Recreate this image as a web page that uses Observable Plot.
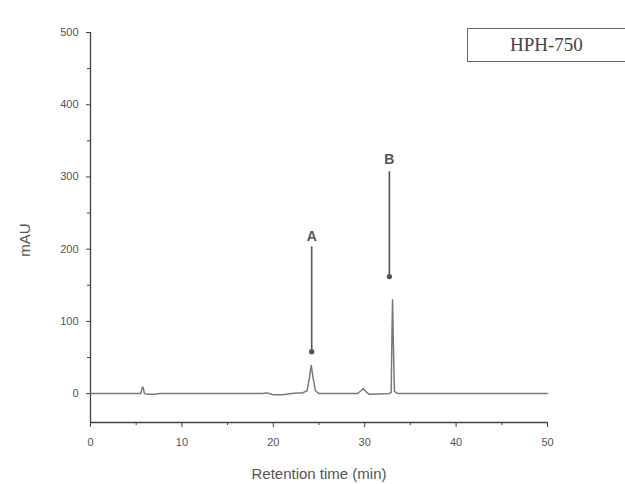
<!DOCTYPE html>
<html><head><meta charset="utf-8">
<script src="https://cdn.jsdelivr.net/npm/d3@7"></script>
<script src="https://cdn.jsdelivr.net/npm/@observablehq/plot@0.6"></script>
<style>
html,body{margin:0;padding:0;background:#fff;overflow:hidden;}
#wrap{position:relative;width:625px;height:484px;}
#tag{position:absolute;left:467px;top:28px;width:170px;height:34px;border:1px solid #666;box-sizing:border-box;
  font-family:"Liberation Serif","DejaVu Serif",serif;font-size:19px;color:#444;display:flex;align-items:center;padding-left:42px;}
#ylab{position:absolute;left:24px;top:240px;transform:translate(-50%,-50%) rotate(-90deg);
  font-family:"Liberation Sans",Arial,sans-serif;font-size:15px;color:#555;white-space:nowrap;}
</style>
</head><body>
<div id="wrap"><div id="tag">HPH-750</div><div id="ylab">mAU</div></div>
<script>
// chromatogram trace (retention time, min / absorbance, mAU)
const time = [0, 5.5, 5.65, 5.75, 5.9, 6.3, 7.0, 7.6, 8.5, 18.8, 19.3, 20.0, 21.0, 22.0, 22.6, 23.2, 23.7, 23.95, 24.15, 24.35, 24.6, 25.0, 26.0, 29.2, 29.6, 29.85, 30.1, 30.5, 31.5, 32.7, 32.9, 32.98, 33.05, 33.12, 33.25, 33.6, 40, 50];
const mAU  = [0, 0, 8, 9, 0, -1, -1, 0, 0, 0, 1, -1.5, -1.5, 0, 1, 1, 4, 22, 39, 22, 4, 0, 0, 0, 4, 7, 3, -1, -0.5, 0, 2, 80, 130, 80, 3, 0, 0, 0];
const peaks = ["A", "B"];
const peakTime = [24.2, 32.7];
const labelY = [217, 324];
const arrowFrom = [204, 308];
const arrowTo = [58, 162];
const xMajor = [0, 10, 20, 30, 40, 50];
const xMinor = [5, 15, 25, 35, 45];
const yMajor = [0, 100, 200, 300, 400, 500];
const yMinor = [50, 150, 250, 350, 450];

const trace = time.map((t, i) => ({t, v: mAU[i]}));
const ann = peaks.map((p, i) => ({p, x: peakTime[i], ly: labelY[i], y1: arrowFrom[i], y2: arrowTo[i]}));
const axisColor = "#444";
const font = "Liberation Sans, Arial, sans-serif";

const chart = Plot.plot({
  width: 625, height: 484,
  marginLeft: 90, marginRight: 78, marginTop: 32, marginBottom: 62,
  style: {fontFamily: font, color: axisColor, background: "transparent"},
  x: {domain: [0, 50]},
  y: {domain: [-40, 500]},
  marks: [
    Plot.axisX({ticks: xMajor, tickSize: 5, tickPadding: 11, fontSize: 11, label: "Retention time (min)", labelAnchor: "center", labelArrow: "none", labelOffset: 56, fill: "#555"}),
    Plot.axisX({ticks: xMinor, tickSize: 3, tickFormat: () => "", label: null}),
    Plot.axisY({ticks: yMajor, tickSize: 4, tickPadding: 8, fontSize: 11, label: null, fill: "#555"}),
    Plot.axisY({ticks: yMinor, tickSize: 3, tickFormat: () => "", label: null}),
    Plot.ruleX([0], {stroke: axisColor, strokeWidth: 1.3}),
    Plot.ruleY([-40], {stroke: axisColor, strokeWidth: 1.3}),
    Plot.line(trace, {x: "t", y: "v", stroke: "#7a7a7a", strokeWidth: 1.5}),
    Plot.link(ann, {x1: "x", x2: "x", y1: "y1", y2: "y2", stroke: "#555", strokeWidth: 1.6, markerEnd: "dot"}),
    Plot.text(ann, {x: "x", y: "ly", text: "p", fontSize: 14, fontWeight: "bold", fill: "#555"})
  ]
});
document.getElementById("wrap").prepend(chart);
chart.style.position = "absolute";
chart.style.left = "0";
chart.style.top = "0";
chart.querySelectorAll("text").forEach(t => { if (t.textContent === "Retention time (min)") t.style.fontSize = "15px"; });
</script>
</body></html>
